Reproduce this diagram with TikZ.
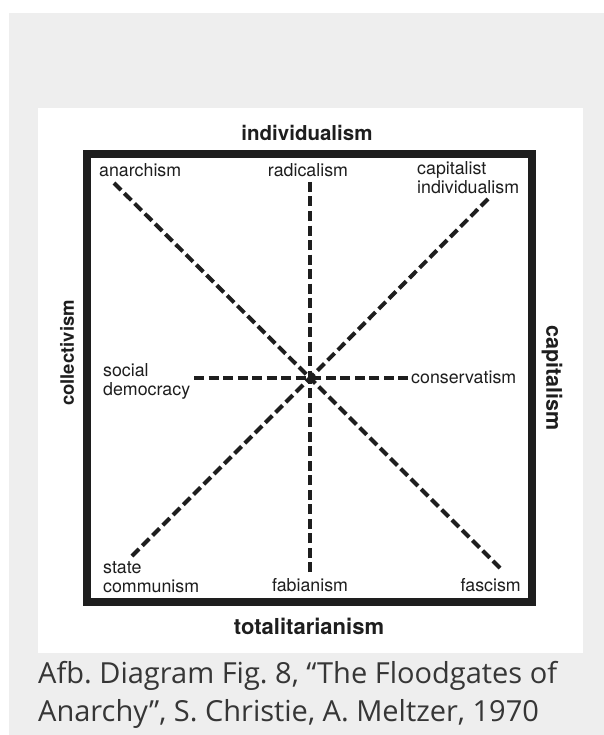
\documentclass[tikz,border=0pt]{standalone}
\usepackage{fontspec}
\setmainfont{TeX Gyre Heros}
\newfontfamily\capfont{Open Sans}
\definecolor{pagegray}{HTML}{EEEEEE}
\definecolor{captext}{HTML}{363636}
\definecolor{ink}{HTML}{1E1E1E}
\frenchspacing

\begin{document}
\begin{tikzpicture}[x=1pt, y=-1pt,
    lbl/.style={inner sep=0pt, text=ink, align=left, font=\fontsize{17.8}{19}\selectfont},
    axislbl/.style={inner sep=0pt, text=ink, font=\fontsize{20.5}{22}\selectfont\bfseries},
    ray/.style={line width=4pt, dash pattern=on 10pt off 4.5pt, draw=ink},
    caption/.style={inner sep=0pt, anchor=base west, text=captext, font=\capfont\fontsize{29}{38}\selectfont}]
        \useasboundingbox (0,0) rectangle (604,735);
        \fill[pagegray] (9,13) rectangle (604,735);
        \fill[white] (38,108) rectangle (583,653);
        \draw[line width=8pt, draw=ink] (87,154) rectangle (532,602);

        \node[axislbl] (indiv) at (307,133) {individualism};
        \node[axislbl, font=\fontsize{22}{24}\selectfont\bfseries] (total) at (309,626) {totalitarianism};
        \node[axislbl, font=\fontsize{18.5}{20}\selectfont\bfseries, rotate=90] (coll) at (67,353) {collectivism};
        \node[axislbl, font=\fontsize{21.5}{23}\selectfont\bfseries, rotate=-90] (capit) at (552,378) {capitalism};

        \node[lbl, anchor=west] (anarch) at (99,170) {anarchism};
        \node[lbl] (radic) at (308,170) {radicalism};
        \node[lbl, anchor=west] (capind) at (417,178) {capitalist\\individualism};
        \node[lbl, anchor=west] (socdem) at (103,381) {social\\democracy};
        \node[lbl, anchor=west] (conserv) at (411,377) {conservatism};
        \node[lbl, anchor=west] (statecom) at (103,577) {state\\communism};
        \node[lbl] (fabian) at (310,585) {fabianism};
        \node[lbl, anchor=east] (fasc) at (521,585) {fascism};

        \coordinate (ctr) at (310,378);
        \coordinate (nw) at (114,183);
        \coordinate (se) at (500,568);
        \coordinate (ne) at (488,199);
        \coordinate (sw) at (132,556);
        \coordinate (n) at (310,182);
        \coordinate (s) at (310,572);
        \coordinate (w) at (194,378);
        \coordinate (e) at (408,378);

        \draw[ray] (nw) -- (ctr);
        \draw[ray] (se) -- (ctr);
        \draw[ray] (ne) -- (ctr);
        \draw[ray] (sw) -- (ctr);
        \draw[ray] (n) -- (ctr);
        \draw[ray] (s) -- (ctr);
        \draw[ray] (w) -- (ctr);
        \draw[ray] (e) -- (ctr);

        \node[caption] (cap1) at (38,683) {Afb. Diagram Fig. 8, “The Floodgates of};
        \node[caption] (cap2) at (38,721) {Anarchy”, S. Christie, A. Meltzer, 1970};
\end{tikzpicture}
\end{document}
